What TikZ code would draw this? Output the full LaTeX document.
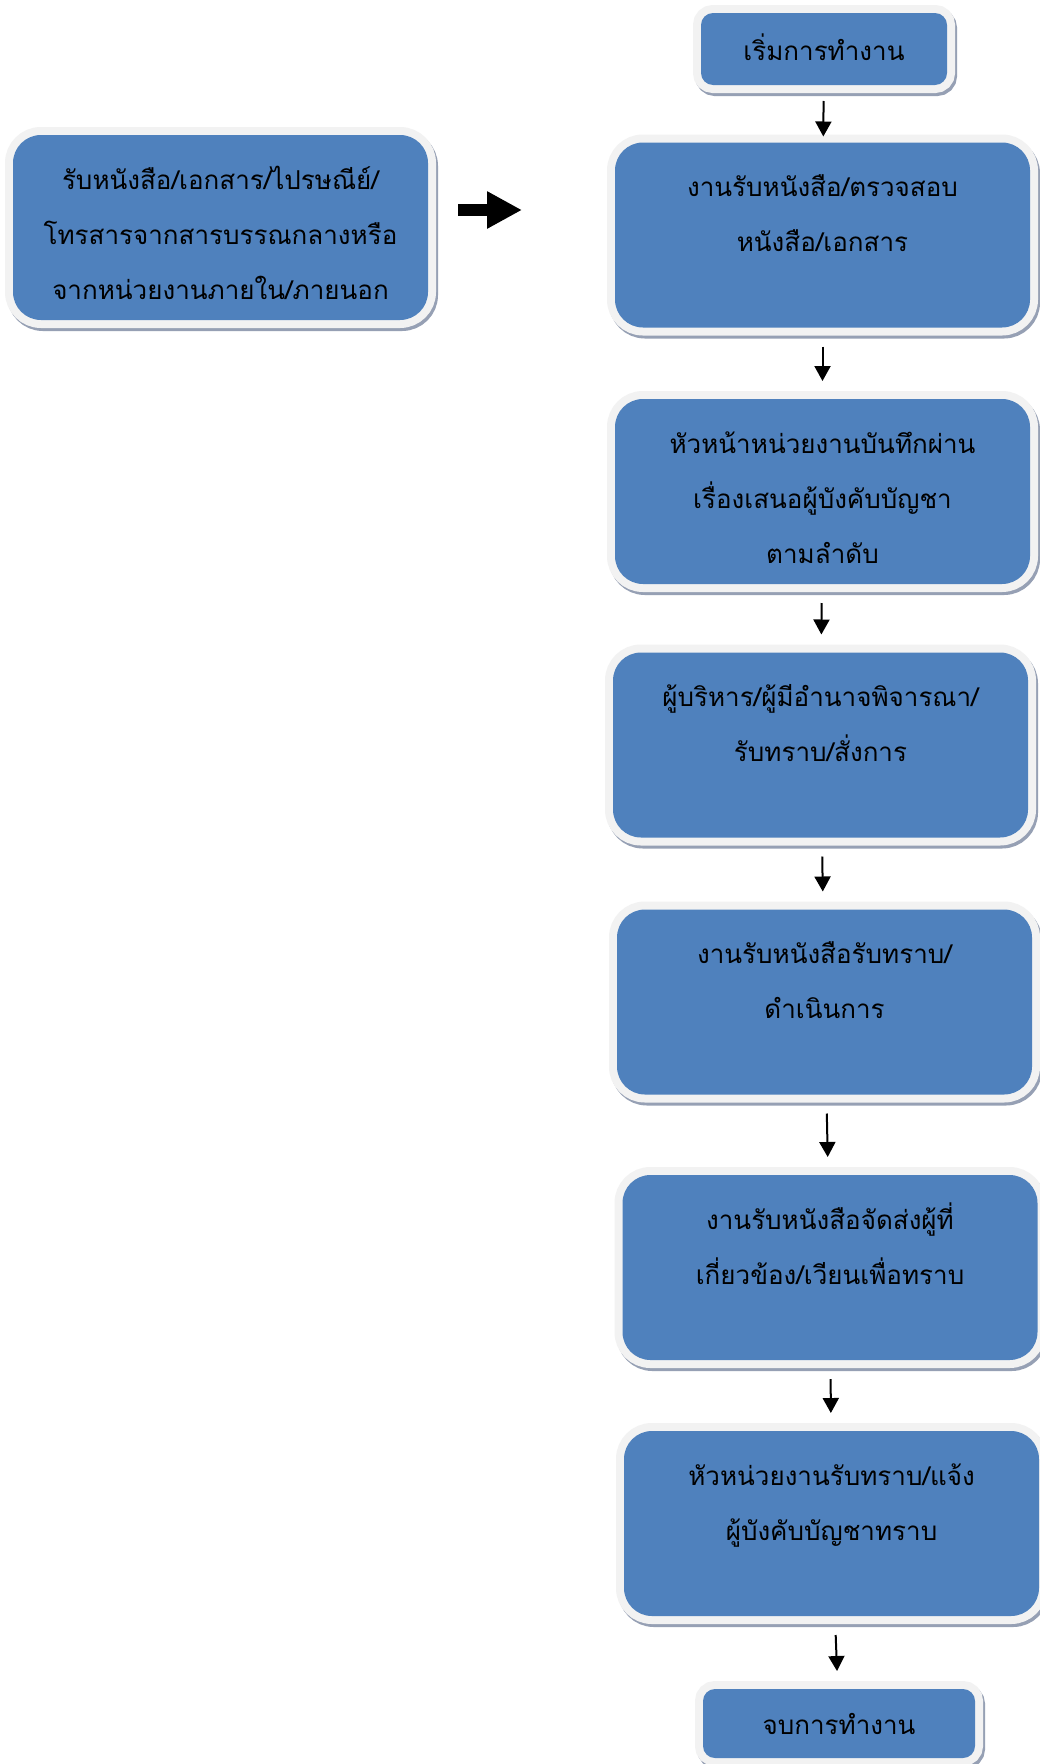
\documentclass[tikz,border=0pt]{standalone}
\usepackage{fontspec}
\newfontfamily\thaifont[Script=Thai]{Loma}
\usetikzlibrary{arrows.meta}
\definecolor{boxblue}{RGB}{79,129,189}
\definecolor{rimgray}{RGB}{242,242,242}
\definecolor{shadegray}{RGB}{150,160,180}
\newcommand\leadstrut{\strut\rule{0pt}{50pt}}

\begin{document}
\begin{tikzpicture}[x=1pt, y=-1pt]
      \tikzset{
	  card/.style={rectangle, rounded corners=#1, fill=boxblue, inner sep=0pt, outer sep=0pt, align=center, text=black, font=\thaifont\fontsize{26}{55}\selectfont, preaction={draw=shadegray, line width=16pt, transform canvas={shift={(2pt,-3pt)}}}, preaction={draw=rimgray, line width=16pt}},
	  process/.style={card=28pt, minimum width=415pt, minimum height=185pt},
	  terminal/.style={card=12pt, minimum height=72pt},
	  flow/.style={-{Triangle[width=16pt,length=15pt]}, line width=2pt, shorten <=19pt, shorten >=18pt},
	  bigarrow/.style={-{Triangle[width=35pt,length=35pt]}, line width=12pt}
      }

      \useasboundingbox[fill=white] (0,0) rectangle (1040,1764);

      % main column
      \node[terminal, minimum width=246pt] (start) at (824,49) {\strut เริ่มการทำงาน};
      \node[process] (check) at (822.5,235) {\leadstrut งานรับหนังสือ/ตรวจสอบ\\\strut หนังสือ/เอกสาร\\\strut};
      \node[process] (head) at (822.5,491.5) {\leadstrut หัวหน้าหน่วยงานบันทึกผ่าน\\\strut เรื่องเสนอผู้บังคับบัญชา\\\strut ตามลำดับ};
      \node[process] (boss) at (820.5,745) {\leadstrut ผู้บริหาร/ผู้มีอำนาจพิจารณา/\\\strut รับทราบ/สั่งการ\\\strut};
      \node[process] (act) at (824.5,1002) {\leadstrut งานรับหนังสือรับทราบ/\\\strut ดำเนินการ\\\strut};
      \node[process] (send) at (830,1267.5) {\leadstrut งานรับหนังสือจัดส่งผู้ที่\\\strut เกี่ยวข้อง/เวียนเพื่อทราบ\\\strut};
      \node[process] (notify) at (831.5,1523.5) {\leadstrut หัวหน่วยงานรับทราบ/แจ้ง\\\strut ผู้บังคับบัญชาทราบ\\\strut};
      \node[terminal, minimum width=272pt, minimum height=69pt] (stop) at (839,1723.5) {\strut จบการทำงาน};

      % incoming mail
      \node[process] (mail) at (220.5,227.5) {\leadstrut รับหนังสือ/เอกสาร/ไปรษณีย์/\\\strut โทรสารจากสารบรรณกลางหรือ\\\strut จากหน่วยงานภายใน/ภายนอก};
      \coordinate (tail) at (458,210);
      \coordinate (tip) at (522,210);
      \draw[bigarrow] (tail) -- (tip);

      \draw[flow, shorten <=16pt, shorten >=6pt] (start) -- (check);
      \draw[flow] (check) -- (head);
      \draw[flow] (head) -- (boss);
      \draw[flow] (boss) -- (act);
      \draw[flow] (act) -- (send);
      \draw[flow] (send) -- (notify);
      \draw[flow] (notify) -- (stop);
    \end{tikzpicture}
\end{document}
